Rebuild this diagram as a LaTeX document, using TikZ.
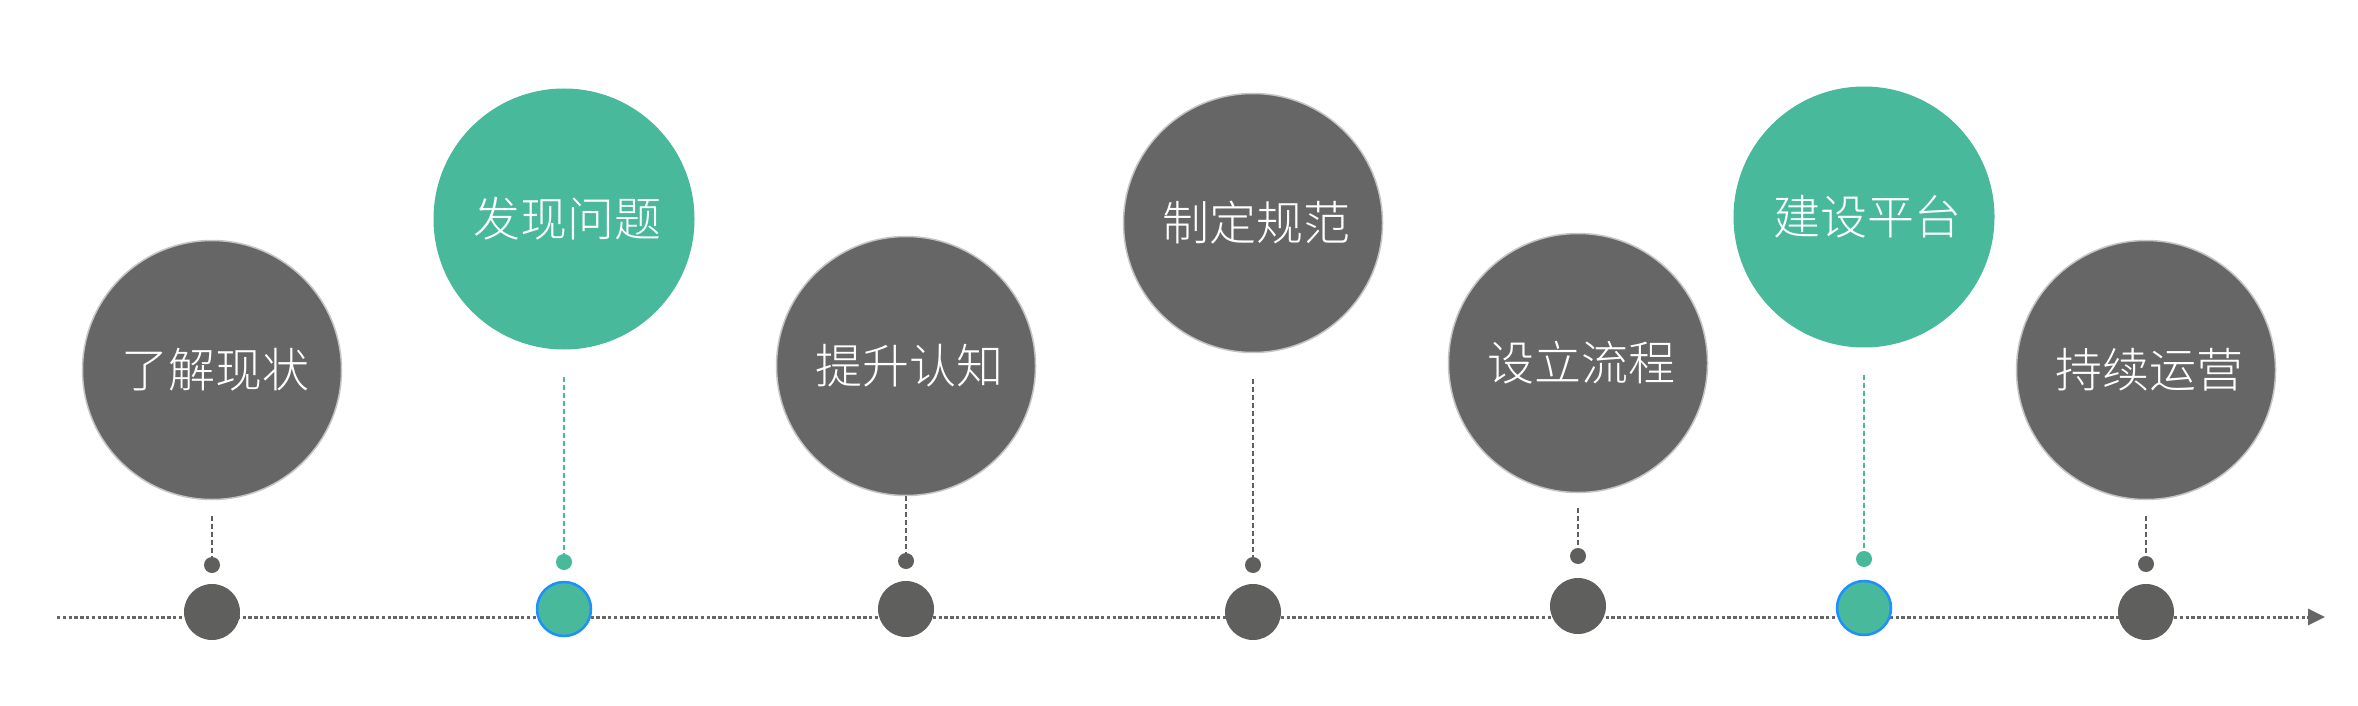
\documentclass[tikz,border=0pt]{standalone}
\usepackage{fontspec}
\newfontfamily\cjk[UprightFont={* Light}]{Noto Sans CJK SC}
\usetikzlibrary{positioning}
\usetikzlibrary{arrows.meta}

\definecolor{stepgray}{HTML}{666666}
\definecolor{stepedge}{HTML}{C4C4C4}
\definecolor{stepgreen}{HTML}{48B99B}
\definecolor{dotgray}{HTML}{5F5F5E}
\definecolor{ringblue}{HTML}{1E8FFF}

\begin{document}
\begin{tikzpicture}[
    x=1pt, y=-1pt,
    ballgray/.style = {circle, inner sep=0pt, minimum size=259pt, fill=stepgray, draw=stepedge, line width=1.5pt,
      text=white, font=\cjk\fontsize{47}{50}\selectfont},
    ballgreen/.style = {circle, inner sep=0pt, minimum size=261pt, fill=stepgreen,
      text=white, font=\cjk\fontsize{47}{50}\selectfont},
    dotgray/.style = {circle, inner sep=0pt, minimum size=16pt, fill=dotgray},
    dotgreen/.style = {circle, inner sep=0pt, minimum size=16pt, fill=stepgreen},
    basegray/.style = {circle, inner sep=0pt, minimum size=56pt, fill=dotgray},
    basegreen/.style = {circle, inner sep=0pt, minimum size=54pt, fill=stepgreen, draw=ringblue, line width=2.5pt},
    linkgray/.style = {draw=dotgray, line width=1.2pt, dash pattern=on 5pt off 3pt},
    linkgreen/.style = {draw=stepgreen, line width=1.2pt, dash pattern=on 5pt off 3pt},
    ]
    \useasboundingbox[fill=white] (0,0) rectangle (2358,706);

    % time axis
    \coordinate (axstart) at (57,617);
    \coordinate (axend) at (2325,617);
    \draw[stepgray, line width=3pt, dash pattern=on 3.4pt off 2.4pt,
      -{Triangle[length=17pt,width=16pt]}] (axstart) -- (axend);

    \foreach \i/\cx/\cy/\dy/\by/\gap/\kind/\txt in {
        1/212/370/565/612/16/gray/了解现状,
        2/564/219/562/609/27/green/发现问题,
        3/906/366/561/609/0/gray/提升认知,
        4/1253/223/565/612/26/gray/制定规范,
        5/1578/363/556/606/15/gray/设立流程,
        6/1864/217/559/608/27/green/建设平台,
        7/2146/370/564/612/16/gray/持续运营} {
      \node[ball\kind] (c\i) at (\cx,\cy) {\hspace*{6pt}\txt};
      \node[dot\kind] (d\i) at (\cx,\dy) {};
      \node[base\kind] (b\i) at (\cx,\by) {};
      \draw[link\kind] ([yshift=-\gap pt]c\i.south) -- (d\i.north);
    }

  \end{tikzpicture}
\end{document}
